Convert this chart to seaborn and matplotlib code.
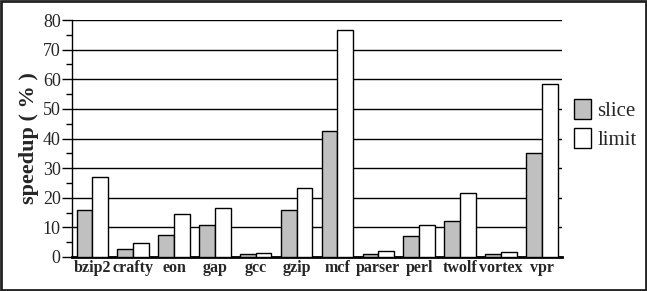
import pandas as pd
import matplotlib
matplotlib.use('Agg')
import matplotlib.pyplot as plt
import seaborn as sns
from matplotlib.ticker import MultipleLocator
from matplotlib.patches import Rectangle

benchmarks = ['bzip2', 'crafty', 'eon', 'gap', 'gcc', 'gzip', 'mcf',
              'parser', 'perl', 'twolf', 'vortex', 'vpr']
slice_vals = [15.8, 2.7, 7.3, 10.8, 1.0, 15.9, 42.6, 1.0, 7.0, 12.2, 0.9, 35.2]
limit_vals = [27.0, 4.7, 14.5, 16.5, 1.5, 23.3, 76.7, 2.0, 10.9, 21.6, 1.7, 58.5]
series = ['slice', 'limit']
y_ticks = [0, 10, 20, 30, 40, 50, 60, 70, 80]

df = pd.DataFrame({
    'bench': benchmarks * 2,
    'speedup': slice_vals + limit_vals,
    'kind': ['slice'] * len(benchmarks) + ['limit'] * len(benchmarks),
})

sns.set_style('white')
plt.rcParams['font.family'] = ['Liberation Serif', 'DejaVu Serif']

fig = plt.figure(figsize=(6.47, 2.91), dpi=100)
ax = fig.add_axes([0.111, 0.117, 0.758, 0.814])

sns.barplot(data=df, x='bench', y='speedup', hue='kind', hue_order=series,
            palette=['#c0c0c0', 'white'], width=0.77, gap=0,
            edgecolor='black', linewidth=1, ax=ax, zorder=3)

ax.set_ylim(0, 80)
ax.set_yticks(y_ticks)
ax.yaxis.set_minor_locator(MultipleLocator(5))
ax.set_xlim(-0.5, len(benchmarks) - 0.5)
ax.yaxis.grid(True, color='black', linewidth=1, zorder=0)
ax.set_axisbelow(True)
for s in ['top', 'right']:
    ax.spines[s].set_visible(False)
ax.spines['left'].set_color('black')
ax.spines['left'].set_linewidth(1)
ax.spines['bottom'].set_color('black')
ax.spines['bottom'].set_linewidth(2)
ax.tick_params(axis='y', which='major', direction='out', length=7, width=1,
               color='black', labelsize=13, left=True, pad=1)
ax.tick_params(axis='y', which='minor', direction='out', length=4, width=1,
               color='black', left=True)
ax.tick_params(axis='x', length=0, labelsize=11.5, pad=2)
for lbl in ax.get_xticklabels():
    lbl.set_fontweight('bold')
ax.set_xlabel('')
ax.set_ylabel('speedup ( % )', fontsize=16, fontweight='bold', labelpad=3)

ax.legend(loc='center left', bbox_to_anchor=(0.995, 0.56), frameon=False,
          fontsize=15, handlelength=0.8, handleheight=1.1, handletextpad=0.3,
          labelspacing=0.35, borderaxespad=0.3)

fig.patches.append(Rectangle((0.002, 0.004), 0.996, 0.992, transform=fig.transFigure,
                             fill=False, edgecolor='#222222', linewidth=2))

fig.savefig('out.png', dpi=100)
